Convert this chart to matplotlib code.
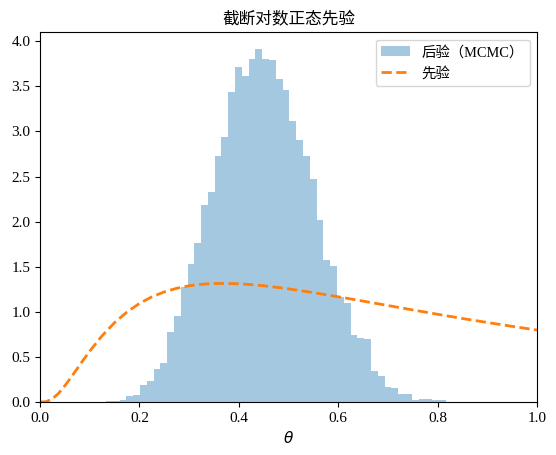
import numpy as np
import matplotlib
matplotlib.use("Agg")
import matplotlib.pyplot as plt

plt.rcParams['font.family'] = ['Liberation Serif', 'Noto Sans CJK SC', 'DejaVu Sans']
plt.rcParams['axes.unicode_minus'] = False

# Posterior histogram (density), 50 bins
bin_start = 0.1328
bin_end = 0.8163
post_density = [
    0.011, 0.011, 0.026, 0.067, 0.078, 0.189, 0.235, 0.367, 0.435, 0.778,
    0.957, 1.274, 1.533, 1.767, 2.189, 2.330, 2.733, 2.944, 3.435, 3.711,
    3.611, 3.800, 3.911, 3.800, 3.789, 3.578, 3.456, 3.111, 2.902, 2.733,
    2.478, 2.022, 1.578, 1.511, 1.167, 1.100, 0.746, 0.715, 0.700, 0.346,
    0.291, 0.170, 0.156, 0.093, 0.093, 0.022, 0.033, 0.033, 0.022, 0.022,
]

# Prior curve
prior_theta = [0.0, 0.0125, 0.025, 0.0375, 0.05, 0.0625, 0.075, 0.0875, 0.1,
               0.125, 0.15, 0.175, 0.2, 0.225, 0.25, 0.275, 0.3, 0.325, 0.35,
               0.375, 0.4, 0.425, 0.45, 0.475, 0.5, 0.55, 0.6, 0.65, 0.7,
               0.75, 0.8, 0.85, 0.9, 0.95, 1.0]
prior_density = [0.0, 0.004, 0.035, 0.097, 0.180, 0.274, 0.371, 0.469, 0.563,
                 0.735, 0.880, 0.998, 1.093, 1.166, 1.221, 1.261, 1.289, 1.306, 1.314,
                 1.315, 1.311, 1.302, 1.289, 1.273, 1.255, 1.213, 1.167, 1.119, 1.070,
                 1.021, 0.973, 0.926, 0.882, 0.839, 0.798]

labels = ['后验（MCMC）', '先验']
title = '截断对数正态先验'

edges = np.linspace(bin_start, bin_end, len(post_density) + 1)

fig = plt.figure(figsize=(5.56, 4.55), dpi=100)
ax = fig.add_axes([40/556, 1-402/455, 497/556, (402-32.3)/455])

ax.hist(edges[:-1], bins=edges, weights=post_density, color='#1f77b4', alpha=0.4,
        label=labels[0])
ax.plot(prior_theta, prior_density, '--', color='#ff7f0e', lw=2, label=labels[1])

ax.set_xlim(0, 1)
ax.set_ylim(0, 4.1)
ax.set_xticks([0.0, 0.2, 0.4, 0.6, 0.8, 1.0])
ax.set_yticks(np.arange(0, 4.01, 0.5))
ax.tick_params(labelsize=11)
ax.set_xlabel(r'$\theta$', fontsize=11)
ax.set_title(title, fontsize=12)
ax.legend(loc='upper right', fontsize=10.4)

fig.savefig('out.png', dpi=100)
